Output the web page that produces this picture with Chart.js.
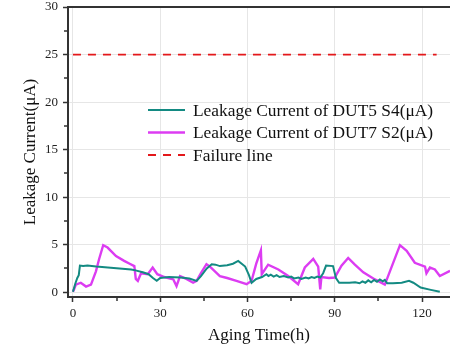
<!DOCTYPE html>
<html>
<head>
<meta charset="utf-8">
<script src="https://cdn.jsdelivr.net/npm/chart.js@4.4.1/dist/chart.umd.min.js"></script>
<style>
  html, body { margin: 0; padding: 0; background: #ffffff; overflow: hidden; }
  #wrap { position: relative; width: 450px; height: 354px; }
</style>
</head>
<body>
<div id="wrap"><canvas id="chart"></canvas></div>
<script>
// Leakage current of two devices over aging time (hours, µA)
const dut5Hours = [0, 0.8, 1.5, 2.0, 2.4, 3.5, 5, 8, 12, 16, 20, 21.5, 24, 26, 27.5, 28.8, 30, 33, 37, 40, 42.5, 44, 46, 47.7, 49, 50.5, 53, 55, 56.8, 58, 59.2, 60.5, 61.4, 63, 65, 66.5, 67.2, 68, 69, 70, 71, 72.5, 74, 75, 76, 77.5, 78.5, 80, 81, 82, 83, 84, 85, 86, 87, 89.4, 90.4, 91.5, 95, 97, 98.5, 99.5, 100.5, 101.5, 102.5, 103.5, 104.5, 105.5, 106.5, 107.2, 108, 110, 113, 115.5, 117, 119.5, 123, 126.1];
const dut5Current = [0.05, 0.9, 1.5, 1.8, 2.8, 2.75, 2.8, 2.7, 2.6, 2.5, 2.4, 2.3, 2.1, 1.9, 1.5, 1.2, 1.5, 1.6, 1.55, 1.45, 1.2, 1.7, 2.5, 2.95, 2.9, 2.75, 2.85, 3.0, 3.3, 3.0, 2.7, 1.8, 1.0, 1.4, 1.6, 1.9, 1.7, 1.85, 1.65, 1.8, 1.6, 1.7, 1.55, 1.65, 1.45, 1.55, 1.4, 1.55, 1.45, 1.6, 1.5, 1.65, 1.55, 2.0, 2.8, 2.75, 1.5, 1.0, 1.0, 1.05, 0.95, 1.15, 1.0, 1.25, 1.05, 1.3, 1.1, 1.35, 1.15, 1.3, 0.95, 0.95, 1.0, 1.2, 1.0, 0.5, 0.25, 0.05];

const dut7Hours = [0, 0.5, 1, 2.7, 4.5, 6.2, 7.9, 9, 10.4, 11.9, 14.8, 17.6, 19.5, 21.1, 21.6, 22.3, 23.4, 25.7, 27.4, 29, 31.4, 34.5, 35.6, 36.8, 39, 41.3, 42.5, 44, 45.9, 47.1, 50.5, 53, 56.2, 59.7, 61.4, 63, 64.6, 64.9, 67.1, 70.6, 74, 77.4, 79.7, 82.6, 84.3, 85.0, 85.4, 88, 90, 92.3, 94.6, 96.9, 99.8, 103.8, 107.2, 112.4, 114.7, 117.5, 121, 121.5, 122.7, 124.4, 126.1, 129.6];
const dut7Current = [0.05, 0.4, 0.8, 1.0, 0.6, 0.8, 2.2, 3.5, 4.95, 4.7, 3.8, 3.3, 3.0, 2.75, 1.4, 1.2, 2.0, 1.9, 2.6, 1.9, 1.6, 1.35, 0.65, 1.7, 1.4, 1.0, 1.2, 2.0, 2.95, 2.7, 1.7, 1.5, 1.2, 0.85, 1.2, 3.0, 4.4, 1.9, 2.9, 2.4, 1.7, 0.85, 2.6, 3.5, 2.7, 0.3, 1.6, 1.5, 1.55, 2.8, 3.6, 2.9, 2.1, 1.35, 0.8, 4.95, 4.35, 3.1, 2.7, 2.0, 2.6, 2.4, 1.7, 2.25];

const failureHours = [0, 125];
const failureLevel = [25, 25];

const xTickValues = [0, 30, 60, 90, 120];
const xMinorTicks = [15, 45, 75, 105];
const yTickValues = [0, 5, 10, 15, 20, 25, 30];
const yMinorTicks = [2.5, 7.5, 12.5, 17.5, 22.5, 27.5];

const seriesLabels = ['Leakage Current of DUT5 S4(\u03bcA)', 'Leakage Current of DUT7 S2(\u03bcA)', 'Failure line'];

const toPoints = (xs, ys) => xs.map((x, i) => ({ x: x, y: ys[i] }));

const SERIF = '"Liberation Serif", "Times New Roman", serif';
const AXIS_COLOR = '#333333';

// Top frame line, minor tick marks and the in-plot legend
const framePlugin = {
  id: 'frame',
  afterDraw(chart) {
    const { ctx, chartArea: a, scales } = chart;
    ctx.save();
    ctx.strokeStyle = AXIS_COLOR;
    ctx.lineWidth = 2;
    ctx.beginPath();
    ctx.moveTo(a.left - 1, a.top);
    ctx.lineTo(a.right + 2, a.top);
    ctx.stroke();

    ctx.lineWidth = 1.5;
    ctx.beginPath();
    xMinorTicks.forEach(v => {
      const px = Math.round(scales.x.getPixelForValue(v));
      ctx.moveTo(px, a.bottom);
      ctx.lineTo(px, a.bottom + 4);
    });
    yMinorTicks.forEach(v => {
      const py = Math.round(scales.y.getPixelForValue(v));
      ctx.moveTo(a.left, py);
      ctx.lineTo(a.left - 4, py);
    });
    ctx.stroke();

    // legend
    const lx = a.left + 80, ly = a.top + 103, rowGap = 22.5;
    ctx.font = '17.4px ' + SERIF;
    ctx.textBaseline = 'middle';
    ctx.textAlign = 'left';
    chart.data.datasets.forEach((ds, i) => {
      const y = ly + i * rowGap;
      ctx.strokeStyle = ds.borderColor;
      ctx.lineWidth = ds.borderWidth;
      ctx.setLineDash(ds.borderDash || []);
      ctx.beginPath();
      ctx.moveTo(lx, y);
      ctx.lineTo(lx + 37, y);
      ctx.stroke();
      ctx.setLineDash([]);
      ctx.fillStyle = '#111111';
      ctx.fillText(ds.label, lx + 45, y + 1);
    });
    ctx.restore();
  }
};

new Chart(document.getElementById('chart'), {
  type: 'scatter',
  data: {
    datasets: [
      {
        label: seriesLabels[0],
        data: toPoints(dut5Hours, dut5Current),
        showLine: true,
        borderColor: '#138a82',
        borderWidth: 2,
        pointRadius: 0,
        tension: 0
      },
      {
        label: seriesLabels[1],
        data: toPoints(dut7Hours, dut7Current),
        showLine: true,
        borderColor: '#dc3cf2',
        borderWidth: 2.4,
        pointRadius: 0,
        tension: 0
      },
      {
        label: seriesLabels[2],
        data: toPoints(failureHours, failureLevel),
        showLine: true,
        borderColor: '#e3181b',
        borderWidth: 1.8,
        borderDash: [8, 7],
        pointRadius: 0
      }
    ]
  },
  options: {
    responsive: true,
    maintainAspectRatio: false,
    animation: false,
    devicePixelRatio: 1,
    layout: { padding: { top: 7, right: 0, bottom: 0, left: 0 } },
    plugins: {
      legend: { display: false },
      tooltip: { enabled: false }
    },
    scales: {
      x: {
        type: 'linear',
        min: -1.7,
        max: 129.6,
        afterBuildTicks: s => { s.ticks = xTickValues.map(v => ({ value: v })); },
        afterFit: s => { s.height = 57; s.paddingLeft = 0; s.paddingRight = 0; },
        ticks: {
          font: { family: SERIF, size: 13 },
          color: '#222222',
          padding: 4,
          maxRotation: 0
        },
        grid: {
          color: '#e6e6e6',
          lineWidth: 1,
          tickLength: 5,
          tickColor: AXIS_COLOR,
          tickWidth: 1.5
        },
        border: { display: true, color: AXIS_COLOR, width: 2 },
        title: {
          display: true,
          text: 'Aging Time(h)',
          font: { family: SERIF, size: 17 },
          color: '#111111',
          padding: { top: 0, bottom: 8 }
        }
      },
      y: {
        type: 'linear',
        min: -0.5,
        max: 30,
        afterBuildTicks: s => { s.ticks = yTickValues.map(v => ({ value: v })); },
        afterFit: s => { s.width = 68; s.paddingTop = 0; s.paddingBottom = 0; },
        ticks: {
          font: { family: SERIF, size: 13 },
          color: '#222222',
          padding: 5
        },
        grid: {
          color: '#e6e6e6',
          lineWidth: 1,
          tickLength: 5,
          tickColor: AXIS_COLOR,
          tickWidth: 1.5
        },
        border: { display: true, color: AXIS_COLOR, width: 2 },
        title: {
          display: true,
          text: 'Leakage Current(\u03bcA)',
          font: { family: SERIF, size: 17 },
          color: '#111111',
          padding: { top: 20, bottom: 0 }
        }
      }
    }
  },
  plugins: [framePlugin]
});
</script>
</body>
</html>
